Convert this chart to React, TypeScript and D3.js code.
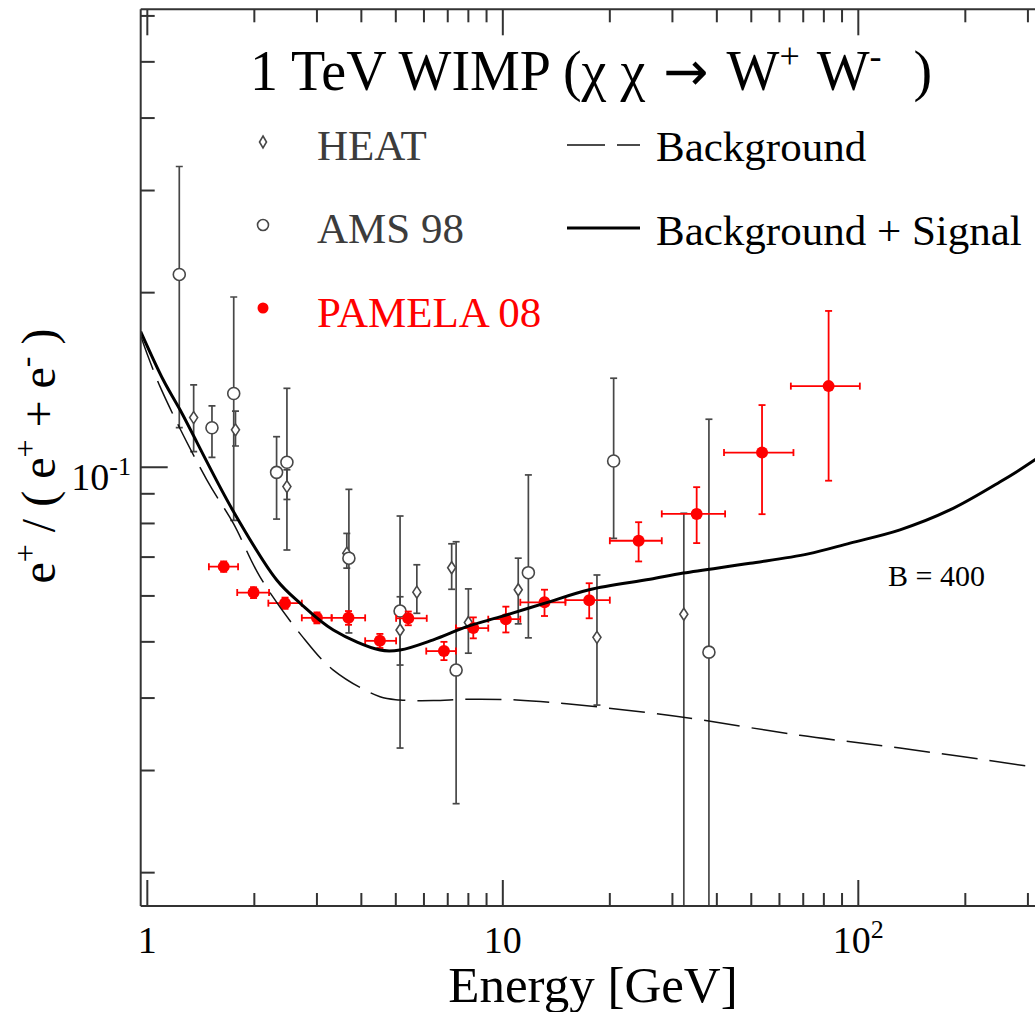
import React from "react";
import * as d3 from "d3";

// ---------- data ----------
const amsE = [1.23, 1.52, 1.75, 2.31, 2.47, 3.69, 5.14, 7.39, 11.8, 20.5, 38.0];
const amsV = [0.215, 0.117, 0.134, 0.098, 0.102, 0.0697, 0.0565, 0.0447, 0.0658, 0.1025, 0.048];
const amsLo = [0.117, 0.104, 0.081, 0.0814, 0.072, 0.0518, 0.0328, 0.0263, 0.0508, 0.0754, 0.005];
const amsHi = [0.33, 0.1276, 0.1966, 0.1129, 0.1368, 0.0916, 0.0824, 0.0744, 0.097, 0.1424, 0.121];

const heatE = [1.35, 1.77, 2.47, 3.64, 5.14, 5.73, 7.18, 8.0, 11.05, 18.4, 32.3];
const heatV = [0.1218, 0.116, 0.0926, 0.0711, 0.0524, 0.0609, 0.0671, 0.054, 0.0615, 0.0509, 0.0558];
const heatLo = [0.1064, 0.1088, 0.088, 0.067, 0.0456, 0.056, 0.0616, 0.0478, 0.0537, 0.0389, 0.005];
const heatHi = [0.1387, 0.125, 0.099, 0.0769, 0.0598, 0.0679, 0.0738, 0.0617, 0.0697, 0.0652, 0.0833];

const pamE = [1.64, 1.99, 2.44, 3.0, 3.68, 4.51, 5.42, 6.83, 8.26, 10.2, 13.1, 17.5, 24.1, 35.1, 53.6, 82.5];
const pamV = [0.0674, 0.0608, 0.0583, 0.055, 0.055, 0.0502, 0.0549, 0.0482, 0.0528, 0.0547, 0.0585, 0.059, 0.0747, 0.0831, 0.106, 0.138];
const pamELo = [1.49, 1.79, 2.19, 2.72, 3.3, 4.1, 5.01, 6.09, 7.38, 9.1, 11.2, 15.0, 20.0, 28.0, 41.9, 64.6];
const pamEHi = [1.8, 2.2, 2.72, 3.3, 4.1, 5.01, 6.11, 7.38, 9.1, 11.2, 15.0, 20.0, 28.0, 42.2, 65.7, 101];
const pamVLo = [0.066, 0.0595, 0.057, 0.0538, 0.0535, 0.0488, 0.0534, 0.0465, 0.0507, 0.0519, 0.0554, 0.0549, 0.0688, 0.074, 0.083, 0.0948];
const pamVHi = [0.0688, 0.0621, 0.0596, 0.0562, 0.0565, 0.0516, 0.0564, 0.05, 0.0551, 0.0575, 0.0615, 0.0631, 0.0804, 0.0924, 0.128, 0.186];

const sigE = [0.958, 1.109, 1.236, 1.737, 2.312, 2.689, 3.336, 4.514, 5.137, 6.375, 7.915, 9.82, 13.14, 17.51, 25.95, 32.19, 49.6, 72.3, 94.8, 131, 181, 250, 314, 400];
const sigV = [0.1714, 0.1414, 0.1256, 0.0844, 0.0639, 0.0583, 0.0524, 0.0484, 0.0484, 0.0504, 0.0531, 0.0552, 0.0583, 0.0615, 0.0641, 0.0657, 0.0683, 0.0709, 0.074, 0.078, 0.0844, 0.0943, 0.103, 0.115];

const bgE = [0.958, 1.086, 1.47, 1.746, 2.075, 2.72, 3.336, 4.514, 5.137, 6.375, 7.915, 10.94, 15.12, 25.95, 35.9, 68.5, 131, 314, 400];
const bgV = [0.1684, 0.1377, 0.0951, 0.08, 0.0647, 0.0512, 0.0447, 0.0402, 0.0397, 0.0396, 0.0398, 0.0397, 0.0391, 0.0377, 0.0367, 0.0345, 0.0328, 0.0304, 0.0297];

const xMajorTicks = [1, 10, 100, 1000];
const xTickLabels = ["1", "10", "10"];
const xTickSups = ["", "", "2"];
const yMajorTicks = [0.1];
const yTickLabel = "10";
const yTickSup = "-1";

const FONT = "'Liberation Serif', 'Times New Roman', serif";
const GRAY = "#474747";
const RED = "#ff0000";

export default function App() {
  const x = d3.scaleLog().domain([0.958, 1000]).range([140.7, 1213.8]);
  const y = d3.scaleLog().domain([0.01752, 0.616]).range([906, 9.3]);
  const [x0, x1] = x.range();
  const [yB, yT] = y.range();

  const xMinor: number[] = [];
  for (const d of [1, 10, 100]) for (let k = 2; k <= 9; k++) xMinor.push(d * k);
  const yMinor: number[] = [];
  for (const d of [0.01, 0.1]) for (let k = 2; k <= 9; k++) {
    const v = d * k;
    if (v >= y.domain()[0] && v <= y.domain()[1]) yMinor.push(v);
  }

  const line = d3
    .line<[number, number]>()
    .x((d) => x(d[0]))
    .y((d) => y(d[1]))
    .curve(d3.curveCatmullRom.alpha(0.5));
  const sigPath = line(sigE.map((e, i) => [e, sigV[i]]));
  const bgPath = line(bgE.map((e, i) => [e, bgV[i]]));

  const cap = 3.5;
  const diamond = (cx: number, cy: number, hw: number, hh: number) =>
    `M${cx},${cy - hh}L${cx + hw},${cy}L${cx},${cy + hh}L${cx - hw},${cy}Z`;

  return (
    <svg
      width={1035}
      height={1012}
      style={{ position: "absolute", left: 0, top: 0, background: "#fff" }}
      fontFamily={FONT}
    >
      <defs>
        <clipPath id="plot">
          <rect x={x0} y={yT} width={x1 - x0} height={yB - yT} />
        </clipPath>
      </defs>
      <rect x={0} y={0} width={1035} height={1012} fill="#fff" />

      <g clipPath="url(#plot)">
        {heatE.map((e, i) => {
          const cx = x(e);
          return (
            <g key={"h" + i} stroke={GRAY} strokeWidth={1.7}>
              <line x1={cx} x2={cx} y1={y(heatLo[i])} y2={y(heatHi[i])} />
              <line x1={cx - cap} x2={cx + cap} y1={y(heatLo[i])} y2={y(heatLo[i])} />
              <line x1={cx - cap} x2={cx + cap} y1={y(heatHi[i])} y2={y(heatHi[i])} />
            </g>
          );
        })}
        {amsE.map((e, i) => {
          const cx = x(e);
          return (
            <g key={"a" + i} stroke={GRAY} strokeWidth={1.7}>
              <line x1={cx} x2={cx} y1={y(amsLo[i])} y2={y(amsHi[i])} />
              <line x1={cx - cap} x2={cx + cap} y1={y(amsLo[i])} y2={y(amsLo[i])} />
              <line x1={cx - cap} x2={cx + cap} y1={y(amsHi[i])} y2={y(amsHi[i])} />
            </g>
          );
        })}
        {heatE.map((e, i) => (
          <path key={"hm" + i} d={diamond(x(e), y(heatV[i]), 4, 6)} fill="#fff" stroke={GRAY} strokeWidth={1.6} />
        ))}
        {amsE.map((e, i) => (
          <circle key={"am" + i} cx={x(e)} cy={y(amsV[i])} r={6} fill="#fff" stroke={GRAY} strokeWidth={1.6} />
        ))}
        {pamE.map((e, i) => {
          const cx = x(e);
          const cy = y(pamV[i]);
          const xl = x(pamELo[i]);
          const xh = x(pamEHi[i]);
          const yl = y(pamVLo[i]);
          const yh = y(pamVHi[i]);
          return (
            <g key={"p" + i} stroke={RED} strokeWidth={1.8}>
              <line x1={xl} x2={xh} y1={cy} y2={cy} />
              <line x1={xl} x2={xl} y1={cy - cap} y2={cy + cap} />
              <line x1={xh} x2={xh} y1={cy - cap} y2={cy + cap} />
              <line x1={cx} x2={cx} y1={yl} y2={yh} />
              <line x1={cx - cap} x2={cx + cap} y1={yl} y2={yl} />
              <line x1={cx - cap} x2={cx + cap} y1={yh} y2={yh} />
              <circle cx={cx} cy={cy} r={6} fill={RED} stroke="none" />
            </g>
          );
        })}
        <path d={bgPath || ""} fill="none" stroke="#111" strokeWidth={1.5} strokeDasharray="36,12" />
        <path d={sigPath || ""} fill="none" stroke="#000" strokeWidth={3} />
      </g>

      {/* frame */}
      <g stroke="#333" strokeWidth={2} fill="none">
        <line x1={x0} x2={x1} y1={yB} y2={yB} />
        <line x1={x0} x2={x1} y1={yT} y2={yT} />
        <line x1={x0} x2={x0} y1={yT} y2={yB} />
      </g>
      <g stroke="#333" strokeWidth={2}>
        {xMajorTicks.map((t) => (
          <g key={"xt" + t}>
            <line x1={x(t)} x2={x(t)} y1={yB} y2={yB - 26} />
            <line x1={x(t)} x2={x(t)} y1={yT} y2={yT + 26} />
          </g>
        ))}
        {xMinor.map((t) => (
          <g key={"xm" + t}>
            <line x1={x(t)} x2={x(t)} y1={yB} y2={yB - 13} />
            <line x1={x(t)} x2={x(t)} y1={yT} y2={yT + 13} />
          </g>
        ))}
        {yMajorTicks.map((t) => (
          <line key={"yt" + t} x1={x0} x2={x0 + 27} y1={y(t)} y2={y(t)} />
        ))}
        {yMinor.map((t) => (
          <line key={"ym" + t} x1={x0} x2={x0 + 14} y1={y(t)} y2={y(t)} />
        ))}
      </g>
      {xTickLabels.map((lab, i) => (
        <text key={"xl" + i} x={x(xMajorTicks[i])} y={953} fontSize={38} textAnchor="middle" fill="#000">
          {lab}
          {xTickSups[i] ? (
            <tspan dy={-15} fontSize={26}>
              {xTickSups[i]}
            </tspan>
          ) : null}
        </text>
      ))}
      <text x={131} y={y(yMajorTicks[0]) + 23} fontSize={38} textAnchor="end" fill="#000">
        {yTickLabel}
        <tspan dy={-15} fontSize={26}>
          {yTickSup}
        </tspan>
      </text>

      <text x={593} y={1002} fontSize={51} textAnchor="middle" fill="#000">
        Energy [GeV]
      </text>
      <text transform="translate(55,456) rotate(-90)" fontSize={48} textAnchor="middle" fill="#000">
        e<tspan dy={-19} fontSize={32}>+</tspan>
        <tspan dy={19}> / ( e</tspan>
        <tspan dy={-19} fontSize={32}>+</tspan>
        <tspan dy={19}> + e</tspan>
        <tspan dy={-19} fontSize={32}>-</tspan>
        <tspan dy={19}> )</tspan>
      </text>

      <text x={250} y={90} fontSize={56} fill="#000">
        {"1 TeV WIMP (χ χ "}
        <tspan fontFamily="'DejaVu Sans', sans-serif" fontSize={54} dx={4}>→</tspan>
        <tspan dx={4}>{" W"}</tspan>
        <tspan dy={-22} fontSize={36}>+</tspan>
        <tspan dy={22} dx={4}>{" W"}</tspan>
        <tspan dy={-22} fontSize={36}>-</tspan>
        <tspan dy={22} dx={18}>{" )"}</tspan>
      </text>

      <path d={diamond(263, 142, 3.5, 6)} fill="#fff" stroke={GRAY} strokeWidth={1.6} />
      <text x={317} y={160} fontSize={43} fill="#3c3c3c">HEAT</text>
      <circle cx={263} cy={225} r={5.5} fill="#fff" stroke={GRAY} strokeWidth={1.6} />
      <text x={317} y={243} fontSize={43} fill="#3c3c3c">AMS 98</text>
      <circle cx={263} cy={308} r={5.5} fill={RED} />
      <text x={317} y={327} fontSize={43} fill={RED}>PAMELA 08</text>

      <line x1={567} x2={640} y1={145} y2={145} stroke="#111" strokeWidth={1.5} strokeDasharray="38,12" />
      <text x={656} y={161} fontSize={43} fill="#000">Background</text>
      <line x1={567} x2={640} y1={228} y2={228} stroke="#000" strokeWidth={3} />
      <text x={656} y={245} fontSize={43} fill="#000">Background + Signal</text>

      <text x={888} y={586} fontSize={30} fill="#000">B = 400</text>
    </svg>
  );
}
